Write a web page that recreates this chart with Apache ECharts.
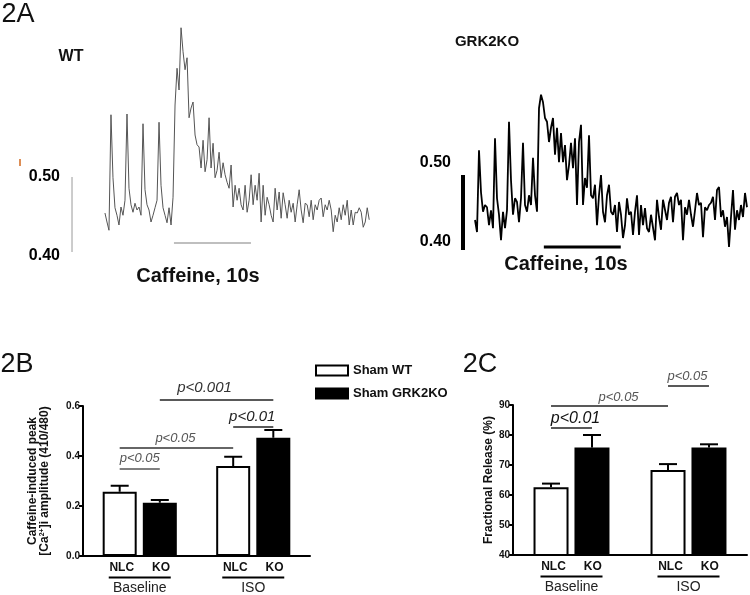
<!DOCTYPE html>
<html><head><meta charset="utf-8">
<script src="https://cdn.jsdelivr.net/npm/echarts@6/dist/echarts.min.js"></script>
<style>html,body{margin:0;padding:0;background:#fff}#c{width:750px;height:595px}</style>
</head><body><div id="c"></div>
<script>
// ---------- Panel 2A: Fura-2 ratio traces (410/480), one sample every 0.26 s ----------
const SAMPLE_DT = 0.26;
const wtStart = 5.84;
const koStart = 3.25;
const wtTrace = [0.452,0.440,0.429,0.583,0.499,0.459,0.449,0.436,0.460,0.449,
0.469,0.584,0.485,0.463,0.453,0.465,0.456,0.460,0.449,0.571,
0.483,0.463,0.456,0.440,0.449,0.459,0.469,0.573,0.489,0.459,
0.449,0.439,0.459,0.436,0.473,0.596,0.645,0.616,0.699,0.667,
0.643,0.659,0.579,0.592,0.600,0.556,0.543,0.540,0.512,0.549,
0.507,0.523,0.579,0.512,0.545,0.499,0.509,0.533,0.499,0.519,
0.503,0.493,0.485,0.516,0.460,0.489,0.469,0.485,0.463,0.456,
0.489,0.453,0.469,0.503,0.463,0.489,0.469,0.505,0.440,0.489,
0.449,0.473,0.463,0.449,0.440,0.485,0.456,0.480,0.445,0.479,
0.463,0.445,0.469,0.453,0.465,0.440,0.463,0.483,0.456,0.439,
0.465,0.463,0.447,0.469,0.443,0.463,0.456,0.469,0.472,0.447,
0.463,0.456,0.469,0.456,0.427,0.449,0.440,0.459,0.443,0.463,
0.449,0.469,0.436,0.456,0.436,0.453,0.452,0.459,0.453,0.433,
0.440,0.459,0.443];
const koTrace = [0.440,0.424,0.533,0.477,0.451,0.460,0.457,0.433,0.453,0.429,
0.549,0.469,0.447,0.413,0.451,0.429,0.453,0.571,0.493,0.447,
0.469,0.464,0.437,0.469,0.543,0.460,0.451,0.473,0.460,0.523,
0.473,0.451,0.589,0.607,0.597,0.576,0.571,0.544,0.563,0.576,
0.527,0.563,0.517,0.556,0.517,0.540,0.493,0.513,0.543,0.509,
0.549,0.460,0.544,0.567,0.460,0.496,0.483,0.553,0.473,0.469,
0.487,0.433,0.473,0.500,0.451,0.437,0.473,0.487,0.451,0.447,
0.460,0.424,0.464,0.447,0.416,0.433,0.469,0.447,0.451,0.420,
0.451,0.473,0.420,0.460,0.433,0.456,0.429,0.424,0.447,0.447,
0.413,0.467,0.444,0.427,0.467,0.469,0.440,0.463,0.471,0.437,
0.471,0.476,0.460,0.467,0.413,0.457,0.447,0.467,0.447,0.431,
0.453,0.476,0.460,0.463,0.417,0.457,0.453,0.460,0.463,0.471,
0.440,0.480,0.484,0.444,0.453,0.431,0.444,0.404,0.444,0.480,
0.427,0.453,0.440,0.460,0.444,0.476,0.457];
const scaleBar = [0.40, 0.50];          // ratio scale bar ends
const wtScaleT = 1.56, koScaleT = 1.69; // time of scale bar
const caffeineWT = [14.8, 24.8];        // 10 s application
const caffeineKO = [12.2, 22.2];
const caffeineLevelWT = 0.412, caffeineLevelKO = 0.404;

// ---------- Panels 2B / 2C ----------
const groups = ['Baseline', 'ISO'];
const subLabels = ['NLC', 'KO'];
const seriesNames = ['Sham WT', 'Sham GRK2KO'];
const ampWT = [0.257, 0.360];
const ampWTerr = [0.024, 0.037];
const ampKO = [0.213, 0.473];
const ampKOerr = [0.011, 0.031];
const fracWT = [62.6, 68.3];
const fracWTerr = [1.2, 2.0];
const fracKO = [75.8, 75.8];
const fracKOerr = [4.2, 1.1];
const ampAxis = {min: 0, max: 0.6, interval: 0.2};
const fracAxis = {min: 40, max: 90, interval: 10};
// significance brackets: from [group, series] to [group, series] at level y
const ampSig = [
  {text: 'p<0.05', a: [0, 0], b: [0, 1], y: 0.348},
  {text: 'p<0.05', a: [0, 0], b: [1, 0], y: 0.432},
  {text: 'p<0.01', a: [1, 0], b: [1, 1], y: 0.516},
  {text: 'p<0.001', a: [0, 1], b: [1, 1], y: 0.624}
];
const fracSig = [
  {text: 'p<0.01', a: [0, 0], b: [0, 1], y: 82.3},
  {text: 'p<0.05', a: [0, 0], b: [1, 0], y: 89.7},
  {text: 'p<0.05', a: [1, 0], b: [1, 1], y: 96.3}
];

// ---------- styles ----------
const FONT = "'Liberation Sans', Arial, Helvetica, sans-serif";
const ampSigStyle = [
  {size: 13, color: '#555', line: '#555', dx: 0, dy: -11},
  {size: 13, color: '#555', line: '#333', dx: -1, dy: -10},
  {size: 15, color: '#222', line: '#222', dx: -1, dy: -10},
  {size: 15, color: '#333', line: '#222', dx: -12, dy: -12}
];
const fracSigStyle = [
  {size: 16, color: '#111', line: '#222', dx: 4, dy: -10},
  {size: 13, color: '#555', line: '#222', dx: 9, dy: -9},
  {size: 13, color: '#555', line: '#222', dx: -1, dy: -10}
];
const BAR_AMP = {w: 34, gap: 0.18, cap: 18};
const BAR_FRAC = {w: 35, gap: 0.17, cap: 18};

function offsetOf(cfg, sIdx) { return (sIdx ? 1 : -1) * (cfg.w + cfg.w * cfg.gap) / 2; }

function traceSeries(ax, start, values, color, width) {
  return {type: 'line', xAxisIndex: ax, yAxisIndex: ax, symbol: 'none', silent: true,
    data: values.map((v, i) => [start + i * SAMPLE_DT, v]),
    lineStyle: {color: color, width: width}, z: 3};
}
function segSeries(ax, pts, color, width) {
  return {type: 'line', xAxisIndex: ax, yAxisIndex: ax, symbol: 'none', silent: true,
    data: pts, lineStyle: {color: color, width: width, cap: 'butt'}, z: 3};
}
function scaleLabels(ax, t, dys) {
  return {type: 'scatter', xAxisIndex: ax, yAxisIndex: ax, symbolSize: 0, silent: true,
    itemStyle: {color: '#000', opacity: 1},
    data: scaleBar.map((v, i) => ({value: [t, v], label: {offset: [0, dys[i]]}})),
    label: {show: true, position: 'left', distance: 12, formatter: p => p.value[1].toFixed(2),
      fontWeight: 'bold', fontSize: 16, color: '#000', opacity: 1, fontFamily: FONT}};
}
function barPair(ax, wt, ko, cfg) {
  return [
    {type: 'bar', name: seriesNames[0], xAxisIndex: ax, yAxisIndex: ax, data: wt,
      barWidth: cfg.w, barGap: (cfg.gap * 100) + '%',
      itemStyle: {color: '#fff', borderColor: '#000', borderWidth: 2}, z: 2},
    {type: 'bar', name: seriesNames[1], xAxisIndex: ax, yAxisIndex: ax, data: ko,
      barWidth: cfg.w, barGap: (cfg.gap * 100) + '%',
      itemStyle: {color: '#000', borderColor: '#000', borderWidth: 2}, z: 2}
  ];
}
function errSeries(ax, means, errs, sIdx, cfg) {
  return {type: 'custom', xAxisIndex: ax, yAxisIndex: ax, silent: true, z: 4,
    data: means.map((m, i) => [i, m, m + errs[i]]),
    encode: {x: 0, y: [1, 2]},
    renderItem(params, api) {
      const base = api.coord([api.value(0), api.value(1)]);
      const top = api.coord([api.value(0), api.value(2)]);
      const x = base[0] + offsetOf(cfg, sIdx);
      const st = {stroke: '#000', lineWidth: 2};
      return {type: 'group', children: [
        {type: 'line', shape: {x1: x, y1: base[1], x2: x, y2: top[1]}, style: st},
        {type: 'line', shape: {x1: x - cfg.cap / 2, y1: top[1], x2: x + cfg.cap / 2, y2: top[1]}, style: st}
      ]};
    }};
}
function sigSeries(ax, sig, sty, cfg) {
  return {type: 'custom', xAxisIndex: ax, yAxisIndex: ax, silent: true, z: 5,
    data: sig.map((s, i) => [s.a[0], s.a[1], s.b[0], s.b[1], s.y, i]),
    encode: {x: 0, y: 4},
    renderItem(params, api) {
      const i = api.value(5);
      const s = sig[i], st = sty[i];
      const p1 = api.coord([api.value(0), api.value(4)]);
      const p2 = api.coord([api.value(2), api.value(4)]);
      const x1 = p1[0] + offsetOf(cfg, api.value(1));
      const x2 = p2[0] + offsetOf(cfg, api.value(3));
      const y = p1[1];
      return {type: 'group', children: [
        {type: 'line', shape: {x1: x1, y1: y, x2: x2, y2: y}, style: {stroke: st.line, lineWidth: 1.5}},
        {type: 'text', x: (x1 + x2) / 2 + st.dx, y: y + st.dy,
          style: {text: s.text, fontStyle: 'italic', fontSize: st.size, fill: st.color,
            align: 'center', verticalAlign: 'middle', fontFamily: FONT}}
      ]};
    }};
}
function catAxis(grid) {
  return {type: 'category', gridIndex: grid, data: groups,
    axisLine: {lineStyle: {color: '#000', width: 2}}, axisTick: {show: false},
    axisLabel: {interval: 0, margin: 5, color: '#222',
      formatter: v => '{n|' + subLabels[0] + '}{g| }{n|' + subLabels[1] + '}\n{u| }\n{b|' + v + '}',
      rich: {
        n: {fontSize: 12, fontWeight: 'bold', fontFamily: FONT, color: '#111', lineHeight: 14},
        g: {width: 18, lineHeight: 14, fontSize: 12},
        u: {width: 62, height: 2, backgroundColor: '#000', lineHeight: 5, fontSize: 2},
        b: {fontSize: 14, fontFamily: FONT, color: '#222', lineHeight: 16}
      }}};
}
function valAxis(grid, cfg, fmt, name, nameGap, rich) {
  return {type: 'value', gridIndex: grid, min: cfg.min, max: cfg.max, interval: cfg.interval,
    splitLine: {show: false},
    axisLine: {show: true, lineStyle: {color: '#000', width: 2}},
    axisTick: {show: true, length: 4, lineStyle: {color: '#000', width: 2}},
    axisLabel: {formatter: fmt, fontSize: 10, fontWeight: 'bold', color: '#111', margin: 3, fontFamily: FONT},
    name: name, nameLocation: 'middle', nameRotate: 90, nameGap: nameGap,
    nameTextStyle: {fontSize: 12, fontWeight: 'bold', color: '#111', fontFamily: FONT, lineHeight: 12, rich: rich}};
}
function gtext(x, y, text, size, weight) {
  return {type: 'text', x: x, y: y, silent: true,
    style: {text: text, fontSize: size, fontWeight: weight || 'normal', fill: '#111',
      align: 'center', verticalAlign: 'middle', fontFamily: FONT}};
}

const hiddenX = (g, max) => ({type: 'value', gridIndex: g, min: 0, max: max, show: false});
const hiddenY = g => ({type: 'value', gridIndex: g, min: 0.38, max: 0.72, show: false});

const option = {
  animation: false,
  backgroundColor: '#fff',
  textStyle: {fontFamily: FONT},
  grid: [
    {left: 60, top: 12, width: 41 * 7.7, height: 255},
    {left: 450, top: 10, width: 39 * 7.7, height: 255},
    {left: 83, top: 406, width: 227, height: 150},
    {left: 513, top: 405, width: 234, height: 150}
  ],
  xAxis: [hiddenX(0, 41), hiddenX(1, 39), catAxis(2), catAxis(3)],
  yAxis: [hiddenY(0), hiddenY(1),
    valAxis(2, ampAxis, v => v.toFixed(1),
      '{t|Caffeine-induced peak}\n{t|[Ca}{s|2+}{t|]i amplitude (410/480)}', 32,
      {t: {fontSize: 12, fontWeight: 'bold', color: '#111', fontFamily: FONT, lineHeight: 12},
       s: {fontSize: 7, fontWeight: 'bold', color: '#111', fontFamily: FONT, lineHeight: 12, verticalAlign: 'top'}}),
    valAxis(3, fracAxis, v => String(v), 'Fractional Release (%)', 17)],
  legend: {left: 310, top: 359, orient: 'vertical', itemWidth: 32, itemHeight: 10, itemGap: 10,
    icon: 'rect', selectedMode: false, data: seriesNames,
    textStyle: {fontSize: 13, fontWeight: 'bold', color: '#111', fontFamily: FONT}},
  graphic: [
    gtext(18, 15, '2A', 27),
    gtext(71, 57, 'WT', 16, 'bold'),
    gtext(487, 42, 'GRK2KO', 15, 'bold'),
    gtext(198, 276, 'Caffeine, 10s', 20, 'bold'),
    gtext(566, 264, 'Caffeine, 10s', 20, 'bold'),
    gtext(17, 365, '2B', 27),
    gtext(480, 365, '2C', 27),
    {type: 'line', silent: true, shape: {x1: 20, y1: 159, x2: 20, y2: 166}, style: {stroke: '#d2691e', lineWidth: 1.5}}
  ],
  series: [
    traceSeries(0, wtStart, wtTrace, '#555', 1),
    segSeries(0, scaleBar.map(v => [wtScaleT, v]), '#bbb', 1.5),
    segSeries(0, caffeineWT.map(t => [t, caffeineLevelWT]), '#aaa', 1.5),
    scaleLabels(0, wtScaleT, [4, 0]),
    traceSeries(1, koStart, koTrace, '#000', 1.8),
    segSeries(1, scaleBar.map(v => [koScaleT, v]), '#000', 4),
    segSeries(1, caffeineKO.map(t => [t, caffeineLevelKO]), '#000', 3),
    scaleLabels(1, koScaleT, [-8, -12]),
    ...barPair(2, ampWT, ampKO, BAR_AMP),
    errSeries(2, ampWT, ampWTerr, 0, BAR_AMP),
    errSeries(2, ampKO, ampKOerr, 1, BAR_AMP),
    sigSeries(2, ampSig, ampSigStyle, BAR_AMP),
    ...barPair(3, fracWT, fracKO, BAR_FRAC),
    errSeries(3, fracWT, fracWTerr, 0, BAR_FRAC),
    errSeries(3, fracKO, fracKOerr, 1, BAR_FRAC),
    sigSeries(3, fracSig, fracSigStyle, BAR_FRAC)
  ]
};
const chart = echarts.init(document.getElementById('c'), null, {renderer: 'canvas'});
chart.setOption(option);
</script></body></html>
